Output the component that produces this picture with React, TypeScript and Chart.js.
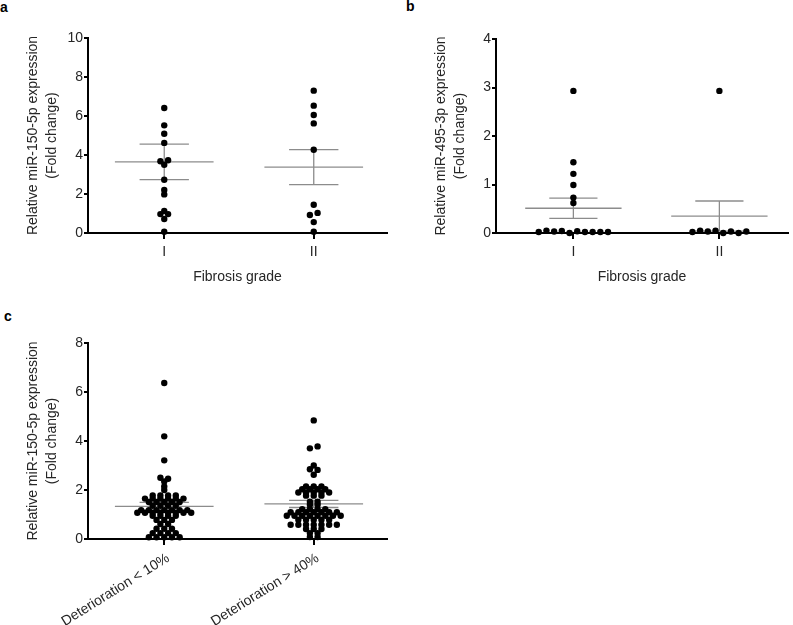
import React, { useEffect, useRef } from "react";
import { Chart, registerables } from "chart.js";

Chart.register(...registerables);

// ---------------- data ----------------
const fibrosisGrades = ["I", "II"];
const deteriorationGroups = ["Deterioration < 10%", "Deterioration > 40%"];

// panel a: miR-150-5p by fibrosis grade
const mir150GradeI = [6.41, 5.52, 5.09, 4.62, 3.68, 3.73, 3.5, 2.73, 2.21, 1.98, 1.13, 0.97, 0.97, 0.72, 0.07];
const mir150GradeII = [7.3, 6.53, 6.05, 5.62, 4.27, 1.45, 0.92, 1.03, 0.56, 0.07];
const mir150GradeMean = [3.65, 3.38];
const mir150GradeSem = [0.91, 0.9];

// panel b: miR-495-3p by fibrosis grade
const mir495GradeI = [2.93, 1.46, 1.22, 0.99, 0.73, 0.62, 0.02, 0.05, 0.03, 0.04, 0.0, 0.035, 0.02, 0.02, 0.02, 0.02];
const mir495GradeII = [2.93, 0.02, 0.05, 0.03, 0.045, 0.0, 0.03, 0.0, 0.03];
const mir495GradeMean = [0.51, 0.35];
const mir495GradeSem = [0.21, 0.31];

// panel c: miR-150-5p by deterioration
const mir150DetLow = [
  6.37, 4.19, 3.21, 2.5, 2.46, 2.35, 2.14, 2.0,
  1.78, 1.78, 1.78, 1.78,
  1.65, 1.65, 1.65, 1.65, 1.65, 1.65,
  1.51, 1.51, 1.51, 1.51, 1.51,
  1.36, 1.36, 1.36, 1.36,
  1.18, 1.18, 1.18, 1.18, 1.18, 1.18, 1.18,
  1.07, 1.07, 1.07, 1.07, 1.07, 1.07, 1.07, 1.07,
  0.95, 0.95, 0.95, 0.95,
  0.78, 0.78, 0.78,
  0.61, 0.61,
  0.42, 0.42, 0.42,
  0.24, 0.24, 0.24, 0.24,
  0.07, 0.07, 0.07, 0.07, 0.07,
];
const mir150DetHigh = [
  4.84, 3.7, 3.78, 3.0, 2.85, 2.82, 2.62,
  2.15, 2.15, 2.15,
  2.03, 2.03, 2.03, 2.03,
  1.9, 1.9, 1.9, 1.9, 1.9,
  1.77, 1.77, 1.77,
  1.52, 1.52,
  1.4, 1.4,
  1.22, 1.22, 1.22, 1.22,
  1.09, 1.09, 1.09, 1.09, 1.09, 1.09, 1.09,
  0.95, 0.95, 0.95, 0.95, 0.95, 0.95, 0.95, 0.95,
  0.79, 0.79, 0.79, 0.79, 0.79,
  0.58, 0.58, 0.58, 0.58, 0.58, 0.58, 0.58,
  0.41, 0.41, 0.41,
  0.24, 0.24,
  0.08, 0.08,
];
const mir150DetMean = [1.33, 1.43];
const mir150DetSem = [0.165, 0.145];

// ---------------- helpers ----------------
const FONT_FAMILY = "'Liberation Sans', Arial, Helvetica, sans-serif";
const TEXT_COLOR = "#262626";
const MEAN_HALF = 0.33;
const CAP_HALF = 0.165;
const DOT_STEP_PX = 7.7;
const ROW_THRESHOLD_PX = 2.5;

function swarm(values: number[], center: number, pxPerY: number, stepUnits: number) {
  const idx = values.map((_, i) => i).sort((a, b) => values[a] - values[b] || a - b);
  const rows: number[][] = [];
  let start = -Infinity;
  for (const i of idx) {
    if (rows.length && (values[i] - start) * pxPerY < ROW_THRESHOLD_PX) rows[rows.length - 1].push(i);
    else {
      rows.push([i]);
      start = values[i];
    }
  }
  const pts: { x: number; y: number }[] = new Array(values.length);
  for (const row of rows) {
    const ordered = [...row].sort((a, b) => a - b);
    const n = ordered.length;
    ordered.forEach((i, k) => {
      pts[i] = { x: center + (k - (n - 1) / 2) * stepUnits, y: values[i] };
    });
  }
  return pts;
}

type PanelProps = {
  left: number;
  top: number;
  width: number;
  height: number;
  groups: string[];
  series: number[][];
  means: number[];
  sems: number[];
  yMax: number;
  yStep: number;
  yTitle: string[];
  xTitle?: string;
  xMin: number;
  xMax: number;
  padTop: number;
  padRight: number;
  xAxisHeight: number;
  rotation: number;
  labelOffset: number;
};

function Panel(p: PanelProps) {
  const ref = useRef<HTMLCanvasElement>(null);
  useEffect(() => {
    const canvas = ref.current!;
    const font = { family: FONT_FAMILY, size: 14 };
    const titleFont = { family: FONT_FAMILY, size: 14, lineHeight: 1.35 };
    const datasets: any[] = [];
    p.series.forEach((vals, gi) => {
      datasets.push({
        type: "scatter",
        data: vals.map((v) => ({ x: gi, y: v })),
        pointRadius: 3.2,
        pointBackgroundColor: "#000",
        pointBorderColor: "#000",
        pointBorderWidth: 0,
        showLine: false,
        clip: false,
        order: 0,
      });
    });
    p.means.forEach((m, gi) => {
      const s = p.sems[gi];
      const segs: number[][][] = [
        [[gi - MEAN_HALF, m], [gi + MEAN_HALF, m]],
        [[gi - CAP_HALF, m + s], [gi + CAP_HALF, m + s]],
        [[gi - CAP_HALF, m - s], [gi + CAP_HALF, m - s]],
        [[gi, m - s], [gi, m + s]],
      ];
      segs.forEach((seg) =>
        datasets.push({
          type: "line",
          data: seg.map(([x, y]) => ({ x, y })),
          borderColor: "#8c8c8c",
          borderWidth: 1.3,
          pointRadius: 0,
          fill: false,
          tension: 0,
          clip: false,
          order: 1,
        })
      );
    });

    const chart = new Chart(canvas, {
      type: "scatter",
      data: { datasets },
      options: {
        animation: false,
        responsive: false,
        events: [],
        layout: { padding: { top: p.padTop, right: p.padRight, bottom: 0, left: 0 } },
        plugins: { legend: { display: false }, tooltip: { enabled: false } },
        scales: {
          x: {
            type: "linear",
            min: p.xMin,
            max: p.xMax,
            afterBuildTicks: (s: any) => {
              s.ticks = p.groups.map((_, i) => ({ value: i }));
            },
            afterFit: (s: any) => {
              s.height = p.xAxisHeight;
            },
            ticks: {
              autoSkip: false,
              callback: (v: any) => p.groups[Math.round(Number(v))] ?? "",
              font,
              color: TEXT_COLOR,
              padding: 5,
              labelOffset: p.labelOffset,
              minRotation: p.rotation,
              maxRotation: p.rotation,
            },
            grid: { drawOnChartArea: false, drawTicks: true, tickLength: 6, color: "#000", lineWidth: 2 },
            border: { display: true, color: "#000", width: 2 },
            title: p.xTitle
              ? { display: true, text: p.xTitle, font: titleFont, color: TEXT_COLOR, padding: { top: 0, bottom: 13.5 } }
              : { display: false },
          },
          y: {
            type: "linear",
            min: 0,
            max: p.yMax,
            afterFit: (s: any) => {
              s.width = 88;
            },
            ticks: { stepSize: p.yStep, font, color: TEXT_COLOR, padding: 1 },
            grid: { drawOnChartArea: false, drawTicks: true, tickLength: 4, color: "#000", lineWidth: 2 },
            border: { display: true, color: "#000", width: 2 },
            title: { display: true, text: p.yTitle, font: titleFont, color: TEXT_COLOR, padding: { top: 23.5, bottom: 0 } },
          },
        },
      } as any,
    });

    const xs: any = chart.scales.x;
    const ys: any = chart.scales.y;
    const pxX = xs.getPixelForValue(1) - xs.getPixelForValue(0);
    const pxY = ys.getPixelForValue(0) - ys.getPixelForValue(1);
    p.series.forEach((vals, gi) => {
      chart.data.datasets[gi].data = swarm(vals, gi, pxY, DOT_STEP_PX / pxX) as any;
    });
    chart.update();
    return () => chart.destroy();
  }, []);

  return (
    <canvas
      ref={ref}
      width={p.width}
      height={p.height}
      style={{ position: "absolute", left: p.left, top: p.top, width: p.width, height: p.height }}
    />
  );
}

const letterStyle = (left: number, top: number): React.CSSProperties => ({
  position: "absolute",
  left,
  top,
  fontFamily: FONT_FAMILY,
  fontWeight: "bold",
  fontSize: 14,
  lineHeight: "16px",
  color: "#000",
});

export default function App() {
  return (
    <div style={{ position: "absolute", left: 0, top: 0, width: 793, height: 625, background: "#fff", overflow: "hidden" }}>
      <div style={letterStyle(0, -1)}>a</div>
      <div style={letterStyle(406, -2)}>b</div>
      <div style={letterStyle(4, 308)}>c</div>
      <Panel
        left={0}
        top={0}
        width={395}
        height={300}
        groups={fibrosisGrades}
        series={[mir150GradeI, mir150GradeII]}
        means={mir150GradeMean}
        sems={mir150GradeSem}
        yMax={10}
        yStep={2}
        yTitle={["Relative miR-150-5p expression", "(Fold change)"]}
        xTitle="Fibrosis grade"
        xMin={-0.51}
        xMax={1.49}
        padTop={38}
        padRight={8}
        xAxisHeight={67}
        rotation={0}
        labelOffset={0}
      />
      <Panel
        left={408}
        top={0}
        width={385}
        height={300}
        groups={fibrosisGrades}
        series={[mir495GradeI, mir495GradeII]}
        means={mir495GradeMean}
        sems={mir495GradeSem}
        yMax={4}
        yStep={1}
        yTitle={["Relative miR-495-3p expression", "(Fold change)"]}
        xTitle="Fibrosis grade"
        xMin={-0.53}
        xMax={1.47}
        padTop={39}
        padRight={5}
        xAxisHeight={67}
        rotation={0}
        labelOffset={0}
      />
      <Panel
        left={0}
        top={300}
        width={395}
        height={325}
        groups={deteriorationGroups}
        series={[mir150DetLow, mir150DetHigh]}
        means={mir150DetMean}
        sems={mir150DetSem}
        yMax={8}
        yStep={2}
        yTitle={["Relative miR-150-5p expression", "(Fold change)"]}
        xMin={-0.51}
        xMax={1.49}
        padTop={43}
        padRight={8}
        xAxisHeight={86}
        rotation={32}
        labelOffset={4}
      />
    </div>
  );
}
